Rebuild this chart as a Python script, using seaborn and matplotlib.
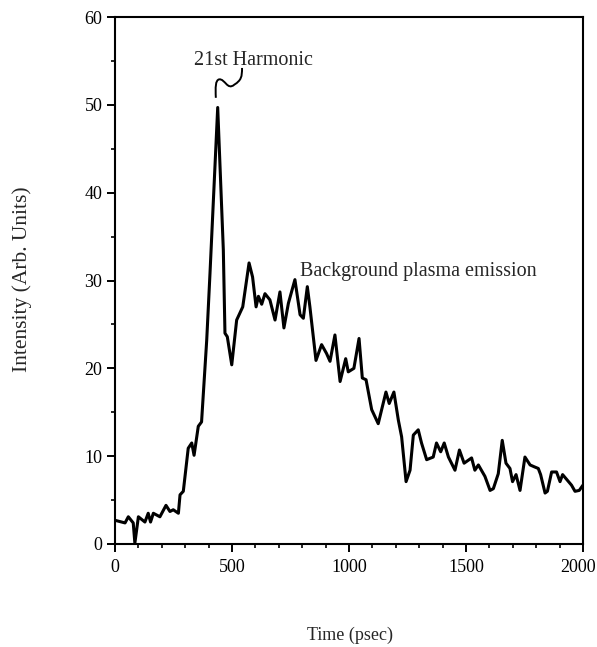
import numpy as np
import pandas as pd
import matplotlib
matplotlib.use("Agg")
import matplotlib.pyplot as plt
import matplotlib.transforms as mtransforms
from matplotlib.path import Path
from matplotlib.patches import PathPatch
import seaborn as sns

# ---- data ----
time_ps = [0, 43, 57, 78, 85, 100, 128, 142, 152, 164, 192, 218, 235, 249, 271, 278,
           292, 313, 328, 338, 356, 370, 392, 406, 439, 463, 470, 480, 499, 506,
           520, 546, 573, 588, 603, 613, 627, 641, 662, 684, 705, 722, 741, 769,
           791, 805, 822, 833, 859, 883, 904, 919, 940, 962, 986, 997, 1021, 1043,
           1057, 1073, 1097, 1125, 1158, 1172, 1192, 1211, 1225, 1244, 1261, 1275,
           1296, 1310, 1332, 1360, 1374, 1392, 1407, 1425, 1453, 1472, 1492, 1524,
           1538, 1553, 1581, 1603, 1617, 1638, 1655, 1671, 1688, 1699, 1714, 1731,
           1752, 1774, 1791, 1809, 1819, 1838, 1848, 1866, 1887, 1902, 1913, 1951,
           1966, 1984, 2000]
intensity = [2.7, 2.4, 3.1, 2.4, 0.1, 3.1, 2.5, 3.5, 2.5, 3.5, 3.1, 4.4, 3.7, 3.9, 3.5, 5.6,
             6.0, 10.9, 11.5, 10.1, 13.4, 13.9, 23.2, 30.8, 49.7, 33.5, 24.0, 23.6, 20.4, 22.1,
             25.5, 27.0, 32.0, 30.4, 27.0, 28.2, 27.3, 28.5, 27.8, 25.5, 28.7, 24.6, 27.4, 30.1,
             26.1, 25.7, 29.3, 27.0, 20.9, 22.7, 21.7, 20.8, 23.8, 18.5, 21.1, 19.6, 20.0, 23.4,
             18.9, 18.7, 15.3, 13.7, 17.3, 16.0, 17.3, 14.1, 12.2, 7.1, 8.4, 12.4,
             13.0, 11.5, 9.6, 9.9, 11.5, 10.5, 11.5, 9.9, 8.4, 10.7, 9.2, 9.8,
             8.4, 9.0, 7.7, 6.1, 6.3, 8.0, 11.8, 9.2, 8.6, 7.1, 7.9, 6.1,
             9.9, 9.0, 8.8, 8.6, 7.9, 5.8, 6.0, 8.2, 8.2, 7.1, 7.9, 6.7,
             6.0, 6.1, 6.7]

x_ticks = [0, 500, 1000, 1500, 2000]
y_ticks = [0, 10, 20, 30, 40, 50, 60]
x_label = "Time (psec)"
y_label = "Intensity (Arb. Units)"
peak_label = "21st Harmonic"
bg_label = "Background plasma emission"

df = pd.DataFrame({"time": time_ps, "intensity": intensity})

sns.set_theme(style="white")
plt.rcParams["font.family"] = ["Liberation Serif", "DejaVu Serif"]

fig = plt.figure(figsize=(5.97, 6.47), dpi=100)
ax = fig.add_axes([0.1926, 0.1592, 0.7839, 0.8145])

sns.lineplot(data=df, x="time", y="intensity", ax=ax, color="black",
             linewidth=2.2, estimator=None, sort=False)

ax.set_xlim(0, 2000)
ax.set_ylim(0, 60)
ax.set_xticks(x_ticks)
ax.set_yticks(y_ticks)
ax.set_xticks(np.arange(0, 2001, 100), minor=True)
ax.set_yticks(np.arange(0, 61, 5), minor=True)
ax.set_xticklabels([str(t) for t in x_ticks])
ax.set_yticklabels([str(t) for t in y_ticks])
ax.tick_params(axis="both", which="major", direction="out", length=6, width=1.4,
               color="black", labelsize=13, labelcolor="black",
               bottom=True, left=True, top=False, right=False)
ax.tick_params(axis="both", which="minor", direction="out", length=3, width=1.2,
               color="black", bottom=True, left=True, top=False, right=False)
ax.tick_params(axis="x", which="major", pad=5)
ax.tick_params(axis="y", which="major", pad=3)
for s in ax.spines.values():
    s.set_visible(True)
    s.set_color("black")
    s.set_linewidth(1.5)

# nudge the last x tick label so it stays inside the figure
last = ax.get_xticklabels()[-1]
last.set_transform(last.get_transform() +
                   mtransforms.ScaledTranslation(-5 / 100, 0, fig.dpi_scale_trans))

ax.set_xlabel("")
ax.set_ylabel("")
fig.text(0.586, 0.004, x_label, ha="center", va="bottom", fontsize=13)
fig.text(0.037, 0.568, y_label, ha="center", va="center", rotation=90, fontsize=15.5)

# annotations
ax.text(590, 55.0, peak_label, ha="center", va="center", fontsize=14.5)
ax.text(791, 31.0, bg_label, ha="left", va="center", fontsize=14.5)

# squiggle connector from peak to label
verts = [(431, 50.8), (429, 52.0), (429, 52.8), (445, 52.9),
         (470, 53.0), (480, 51.6), (510, 52.3),
         (540, 52.8), (543, 53.2), (543, 54.2)]
codes = [Path.MOVETO, Path.CURVE4, Path.CURVE4, Path.CURVE4,
         Path.CURVE4, Path.CURVE4, Path.CURVE4,
         Path.CURVE4, Path.CURVE4, Path.CURVE4]
ax.add_patch(PathPatch(Path(verts, codes), facecolor="none", edgecolor="black", lw=1.4))

fig.savefig("out.png", dpi=100, facecolor="white")
